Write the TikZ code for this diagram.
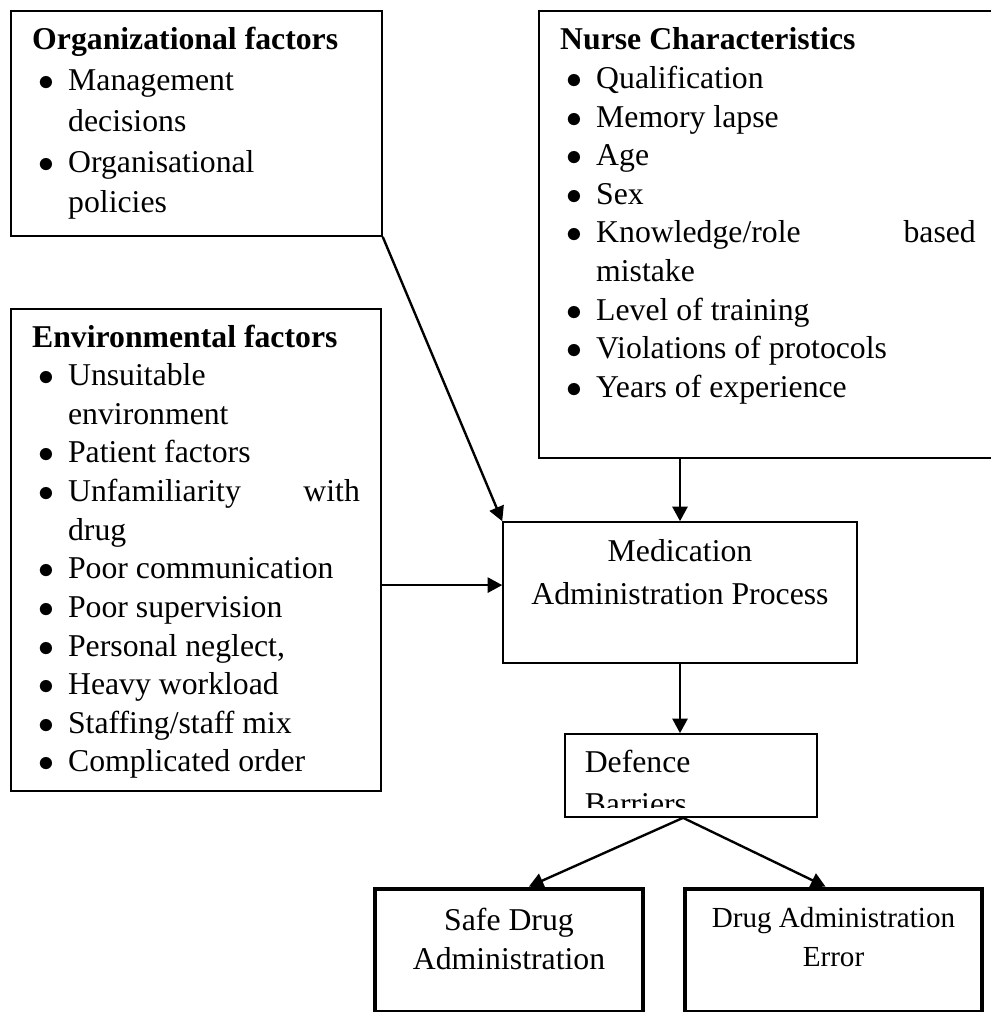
\documentclass[tikz,border=0pt]{standalone}
\usepackage{fontspec}
\setmainfont{Liberation Serif}
\usepackage{enumitem}
\usepackage{tikz}
\usetikzlibrary{positioning, arrows.meta}

\setlist[itemize]{nosep, leftmargin=13.6pt, labelsep=5.2pt, label=$\bullet$}

\begin{document}
\begin{tikzpicture}[
    x=0.378pt, y=-0.378pt,
    every node/.style={font=\fontsize{12}{15}\selectfont},
    frame/.style={draw, rectangle, line width=0.6pt, inner ysep=0pt, inner xsep=8pt},
    outcome/.style={draw, rectangle, line width=1.8pt, inner sep=0pt},
    arr/.style={-{Triangle[length=5.5pt, width=5.7pt]}, line width=0.9pt}
]
\useasboundingbox (0,0) rectangle (991,1012);

% Organizational factors (top left)
\node[frame] (org) at (196.5,123.5) {\parbox[c][85.1pt][t]{124.2pt}{\fontsize{12}{15.4}\selectfont
    \rule{0pt}{14.7pt}\textbf{Organizational factors}
    \begin{itemize}
        \item Management\\decisions
        \item Organisational\\policies
    \end{itemize}}};

% Nurse characteristics (top right, runs past the edge)
\node[frame] (nurse) at (778.6,234.5) {\parbox[c][169pt][t]{165.1pt}{\fontsize{12}{14.6}\selectfont
    \rule{0pt}{14.7pt}\textbf{Nurse Characteristics}
    \begin{itemize}[rightmargin=8pt]
        \item Qualification
        \item Memory lapse
        \item Age
        \item Sex
        \item Knowledge/role\hfill based\\mistake
        \item Level of training
        \item Violations of protocols
        \item Years of experience
    \end{itemize}}};

% Environmental factors (left)
\node[frame] (env) at (196,550) {\parbox[c][182.2pt][t]{123.9pt}{\fontsize{12}{14.6}\selectfont
    \rule{0pt}{14.4pt}\textbf{Environmental factors}
    \begin{itemize}
        \item Unsuitable\\environment
        \item Patient factors
        \item Unfamiliarity\hfill with\\drug
        \item Poor communication
        \item Poor supervision
        \item Personal neglect,
        \item Heavy workload
        \item Staffing/staff mix
        \item Complicated order
    \end{itemize}}};

% Process and barriers
\node[frame, inner xsep=0pt] (med) at (680,592.5) {\parbox[c][53.3pt][t]{133.8pt}{\centering\fontsize{12}{15.9}\selectfont
    \rule{0pt}{15.1pt}Medication\\Administration Process}};

\node[frame, inner sep=0pt, minimum width=95.3pt, minimum height=31.4pt] (def) at (691,775.5) {};
\begin{scope}
    \clip (def.north west) rectangle ([yshift=3.8pt]def.south east);
    \node[anchor=base west, inner sep=0pt] (deftxt) at ([xshift=7.6pt, yshift=-14.7pt]def.north west) {Defence};
    \node[anchor=base west, inner sep=0pt] (bartxt) at ([yshift=-15.9pt]deftxt.base west) {Barriers};
\end{scope}

% Outcomes
\node[outcome] (safe) at (509,950.5) {\parbox[c][46.5pt][t]{101.3pt}{\centering\fontsize{12}{15}\selectfont
    \rule{0pt}{15.5pt}Safe Drug\\Administration}};
\node[outcome] (err) at (833.5,950.5) {\parbox[c][46.5pt][t]{112.3pt}{\centering\fontsize{11}{14.7}\selectfont
    \rule{0pt}{14.7pt}Drug Administration\\Error}};

% Connectors
\coordinate (envout) at ([yshift=2.8pt]med.west);
\draw[arr] (org.south east) -- (med.north west);
\draw[arr] (med.north |- nurse.south) -- (med.north);
\draw[arr] (envout -| env.east) -- (envout);
\draw[arr] (med.south) -- (med.south |- def.north);
\draw[arr] ([xshift=-3pt]def.south) -- ([xshift=7.5pt]safe.north);
\draw[arr] ([xshift=-3pt]def.south) -- ([xshift=-3pt]err.north);
\end{tikzpicture}
\end{document}
